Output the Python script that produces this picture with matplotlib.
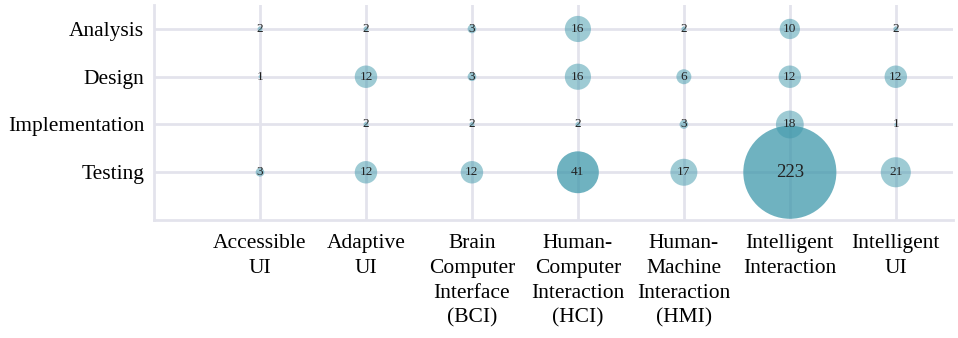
import matplotlib
matplotlib.use("Agg")
import matplotlib.pyplot as plt
import numpy as np

# categories
methods = ["Accessible\nUI", "Adaptive\nUI", "Brain\nComputer\nInterface\n(BCI)",
           "Human-\nComputer\nInteraction\n(HCI)", "Human-\nMachine\nInteraction\n(HMI)",
           "Intelligent\nInteraction", "Intelligent\nUI"]
phases = ["Testing", "Implementation", "Design", "Analysis"]

# counts per phase, in method order (0 = no bubble)
analysis = [2, 2, 3, 16, 2, 10, 2]
design = [1, 12, 3, 16, 6, 12, 12]
implementation = [0, 2, 2, 2, 3, 18, 1]
testing = [3, 12, 12, 41, 17, 223, 21]

rows = [testing, implementation, design, analysis]

plt.rcParams['font.family'] = ['Liberation Serif', 'DejaVu Serif']

fig = plt.figure(figsize=(9.58, 3.38), dpi=100)
ax = fig.add_axes([0.1608, 0.349, 0.834, 0.636])

grid_col = "#e3e3ec"
ax.set_axisbelow(True)
ax.grid(True, color=grid_col, linewidth=2)
for side in ["top", "right"]:
    ax.spines[side].set_visible(False)
for side in ["left", "bottom"]:
    ax.spines[side].set_color(grid_col)
    ax.spines[side].set_linewidth(2)

vmax = max(max(r) for r in rows)
smax = 4490
for yi, counts in enumerate(rows):
    for xi, v in enumerate(counts):
        if v == 0:
            continue
        s = smax * max(v ** 0.92 - 1.5, 0.15) / (vmax ** 0.92 - 1.5)
        alpha = 0.75 if v >= 30 else 0.5
        ax.scatter(xi, yi, s=s, color="#3f98ab", alpha=alpha, edgecolors="none", zorder=3)
        ax.text(xi, yi, str(v), ha="center", va="center",
                fontsize=13.5 if v >= 100 else 9.5, color="#222222", zorder=4)

ax.set_xticks(range(len(methods)))
ax.set_xticklabels(methods, fontsize=15.5, linespacing=1.42, va="top")
ax.set_yticks(range(len(phases)))
ax.set_yticklabels(phases, fontsize=15.5)
ax.tick_params(length=0)
ax.tick_params(axis="y", pad=7)
ax.tick_params(axis="x", pad=10)
ax.set_xlim(-1, 6.54)
ax.set_ylim(-1, 3.5)

fig.savefig("out.png", dpi=100)
